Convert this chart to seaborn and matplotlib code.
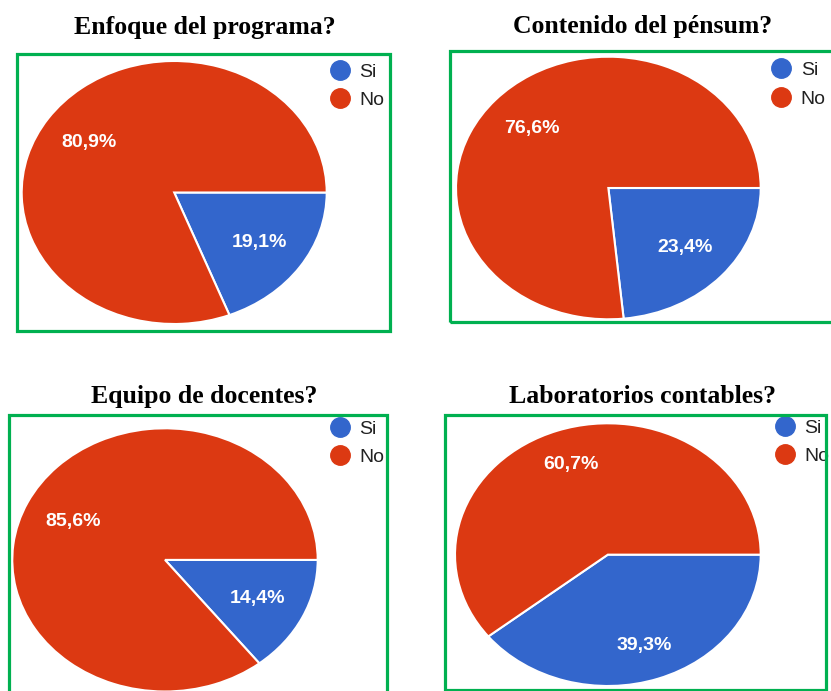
import matplotlib
matplotlib.use("Agg")
import matplotlib.pyplot as plt
from matplotlib.patches import Rectangle
from matplotlib.lines import Line2D
import seaborn as sns

# ---- data ----
titles = ["Enfoque del programa?", "Contenido del pénsum?",
          "Equipo de docentes?", "Laboratorios contables?"]
categories = ["Si", "No"]
si_values = [19.1, 23.4, 14.4, 39.3]
no_values = [80.9, 76.6, 85.6, 60.7]

# ---- style ----
sns.set_theme(style="white")
plt.rcParams['font.family'] = ['Liberation Sans', 'DejaVu Sans']
palette = sns.color_palette(["#3366CC", "#DC3912"])
green = "#00B050"

W, H = 831, 691
fig = plt.figure(figsize=(W / 100, H / 100), dpi=100)

def fx(x):
    return x / W

def fy(y):
    return 1 - y / H

# layout in pixels (pie bbox, frame box, title anchor, legend anchor)
pie_boxes = [(21.7, 61, 326.7, 324), (456, 56.7, 760.7, 319.3),
             (12.3, 428.3, 317.7, 691.5), (455, 423.3, 760.7, 686)]
frames = [(16.5, 53.5, 389.5, 330.5), (450, 50.7, 845, 322),
          (9, 415, 387, 705), (445, 415, 825.5, 689.5)]
title_pos = [(205, 34), (642.5, 33), (204.5, 403), (642.5, 403)]
legend_pos = [(330, 59), (771.5, 57.5), (330, 416), (775, 415)]
pct_dist = [0.68, 0.68, 0.67, 0.73]

def fmt(p):
    return f"{p:.1f}%".replace(".", ",")

for i in range(4):
    x0, y0, x1, y1 = pie_boxes[i]
    ax = fig.add_axes([fx(x0), fy(y1), fx(x1) - fx(x0), fy(y0) - fy(y1)])
    vals = [si_values[i], no_values[i]]
    wedges, texts, autotexts = ax.pie(
        vals, colors=palette, startangle=0, counterclock=False,
        autopct=fmt, pctdistance=pct_dist[i], radius=1,
        wedgeprops=dict(edgecolor="white", linewidth=1.5),
        textprops=dict(color="white", fontsize=14, fontweight="bold"))
    ax.set_aspect("auto")
    ax.set_xlim(-1, 1)
    ax.set_ylim(-1, 1)
    ax.axis("off")
    for w in wedges:
        w.set_clip_on(False)

    # green frame
    fx0, fy0, fx1, fy1 = frames[i]
    fig.add_artist(Rectangle((fx(fx0), fy(fy1)), fx(fx1) - fx(fx0), fy(fy0) - fy(fy1),
                             transform=fig.transFigure, fill=False,
                             edgecolor=green, linewidth=2.3, zorder=5))

    # title
    tx, ty = title_pos[i]
    fig.text(fx(tx), fy(ty), titles[i], ha="center", va="baseline",
             fontsize=18.5, fontweight="bold",
             family=["Liberation Serif", "DejaVu Serif"], color="black")

    # legend
    handles = [Line2D([], [], marker="o", ls="", color=palette[k],
                      markersize=14) for k in range(2)]
    lx, ly = legend_pos[i]
    ax.legend(handles, categories, loc="upper left",
              bbox_to_anchor=(fx(lx), fy(ly + 4)), bbox_transform=fig.transFigure,
              frameon=False, borderpad=0, borderaxespad=0,
              handlelength=1.0, handletextpad=0.5, labelspacing=0.56,
              fontsize=14, labelcolor="#222222")

fig.savefig("out.png", dpi=100)
